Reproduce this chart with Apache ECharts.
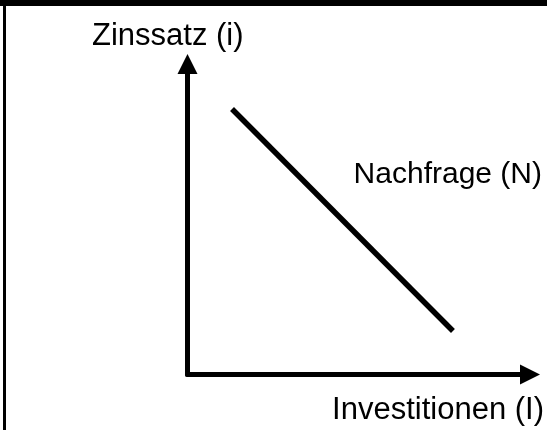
<!DOCTYPE html>
<html>
<head>
<meta charset="utf-8">
<script src="https://cdn.jsdelivr.net/npm/echarts@6/dist/echarts.min.js"></script>
<style>
  html, body { margin: 0; padding: 0; background: #fff; }
  #wrap { position: relative; width: 547px; height: 430px; overflow: hidden; }
  #main { position: absolute; left: 0; top: 0; width: 547px; height: 430px; }
  .bar-top { position: absolute; left: 0; top: 0; width: 547px; height: 6px; background: #000; }
  .bar-left { position: absolute; left: 3px; top: 0; width: 3px; height: 430px; background: #000; }
</style>
</head>
<body>
<div id="wrap">
  <div id="main"></div>
  <div class="bar-top"></div>
  <div class="bar-left"></div>
</div>
<script>
// demand curve (x: Investitionen, y: Zinssatz, 0..100)
var investitionen = [13, 77.5];
var zinssatz = [85.5, 14];
var yName = 'Zinssatz (i)';
var xName = 'Investitionen (I)';
var curveName = 'Nachfrage (N)';

var font = '"Liberation Sans", Arial, sans-serif';

var myChart = echarts.init(document.getElementById('main'), null, { renderer: 'canvas' });

var option = {
  animation: false,
  backgroundColor: 'transparent',
  grid: { left: 187.5, right: 17, top: 64, bottom: 55.5, containLabel: false },
  xAxis: {
    type: 'value', min: 0, max: 100,
    axisLine: { show: true, symbol: ['none', 'triangle'], symbolSize: [20, 20], symbolOffset: [0, 0],
      lineStyle: { color: '#000', width: 5 } },
    axisTick: { show: false }, axisLabel: { show: false }, splitLine: { show: false }
  },
  yAxis: {
    type: 'value', min: 0, max: 100,
    axisLine: { show: true, symbol: ['none', 'triangle'], symbolSize: [20, 20], symbolOffset: [0, 0],
      lineStyle: { color: '#000', width: 5 } },
    axisTick: { show: false }, axisLabel: { show: false }, splitLine: { show: false }
  },
  graphic: [
    { type: 'text', left: 92, top: 21, style: { text: yName, font: '31px ' + font, fill: '#000' } },
    { type: 'text', right: 5, top: 159.5, style: { text: curveName, font: '30px ' + font, fill: '#000' } },
    { type: 'text', right: 3, top: 394.5, style: { text: xName, font: '31px ' + font, fill: '#000' } }
  ],
  series: [
    {
      name: curveName,
      type: 'line',
      data: investitionen.map(function (x, i) { return [x, zinssatz[i]]; }),
      symbol: 'none',
      lineStyle: { color: '#000', width: 5.5, cap: 'butt' }
    }
  ]
};

myChart.setOption(option);
</script>
</body>
</html>
